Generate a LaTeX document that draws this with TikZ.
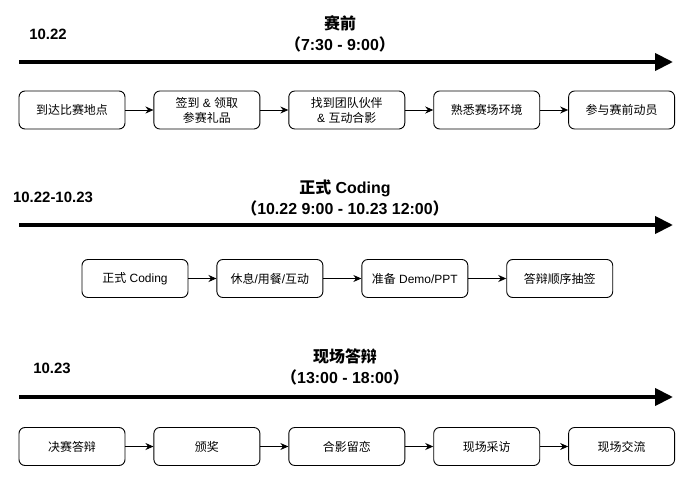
\documentclass[tikz,border=0pt]{standalone}
\usepackage{fontspec}
\setmainfont{Liberation Sans}
\newfontfamily\cjk{Noto Sans CJK SC}
\usetikzlibrary{arrows.meta,positioning}
\newcommand{\zh}[1]{{\cjk #1}}

\begin{document}
\begin{tikzpicture}[x=1bp,y=1bp,
node distance=28bp,
box/.style={draw,rounded corners=6bp,align=center,line width=0.9bp,
minimum width=106bp,minimum height=38bp,inner sep=2bp,
font=\fontsize{12}{15}\selectfont},
wide/.style={box,minimum width=116bp},
arr/.style={-{Stealth[length=8bp,width=7bp]},line width=0.9bp},
axis/.style={line width=4bp,-{Triangle[length=18bp,width=17bp]}},
title/.style={align=center,font=\bfseries\fontsize{16}{21}\selectfont},
day/.style={font=\bfseries\fontsize{15}{18}\selectfont}
]
\useasboundingbox (0,0) rectangle (690,-478);

\node[day] (d1) at (48,-34) {10.22};
\node[title] (t1) at (340,-33.5) {\zh{赛前}\\\zh{（}7:30 - 9:00\zh{）}};
\coordinate (s1) at (19,-62);
\coordinate (e1) at (673,-62);
\draw[axis] (s1)--(e1);
\node[box] (a1) at (72,-110) {\zh{到达比赛地点}};
\node[box,right=of a1] (a2) {\zh{签到} \& \zh{领取}\\\zh{参赛礼品}};
\node[wide,right=of a2] (a3) {\zh{找到团队伙伴}\\\& \zh{互动合影}};
\node[box,right=of a3] (a4) {\zh{熟悉赛场环境}};
\node[box,right=of a4] (a5) {\zh{参与赛前动员}};
\draw[arr] (a1)--(a2);
\draw[arr] (a2)--(a3);
\draw[arr] (a3)--(a4);
\draw[arr] (a4)--(a5);

\node[day] (d2) at (53,-197) {10.22-10.23};
\node[title] (t2) at (345,-198) {\zh{正式} Coding\\\zh{（}10.22 9:00 - 10.23 12:00\zh{）}};
\coordinate (s2) at (19,-225);
\coordinate (e2) at (673,-225);
\draw[axis] (s2)--(e2);
\node[box] (b1) at (135,-278.5) {\zh{正式} Coding};
\node[box,right=of b1] (b2) {\zh{休息}/\zh{用餐}/\zh{互动}};
\node[box,right=38bp of b2] (b3) {\zh{准备} Demo/PPT};
\node[box,right=38bp of b3] (b4) {\zh{答辩顺序抽签}};
\draw[arr] (b1)--(b2);
\draw[arr] (b2)--(b3);
\draw[arr] (b3)--(b4);

\node[day] (d3) at (52,-368) {10.23};
\node[title] (t3) at (345,-367) {\zh{现场答辩}\\\zh{（}13:00 - 18:00\zh{）}};
\coordinate (s3) at (19,-397);
\coordinate (e3) at (673,-397);
\draw[axis] (s3)--(e3);
\node[box] (c1) at (72,-446.5) {\zh{决赛答辩}};
\node[box,right=of c1] (c2) {\zh{颁奖}};
\node[wide,right=of c2] (c3) {\zh{合影留恋}};
\node[box,right=of c3] (c4) {\zh{现场采访}};
\node[box,right=of c4] (c5) {\zh{现场交流}};
\draw[arr] (c1)--(c2);
\draw[arr] (c2)--(c3);
\draw[arr] (c3)--(c4);
\draw[arr] (c4)--(c5);
\end{tikzpicture}
\end{document}
